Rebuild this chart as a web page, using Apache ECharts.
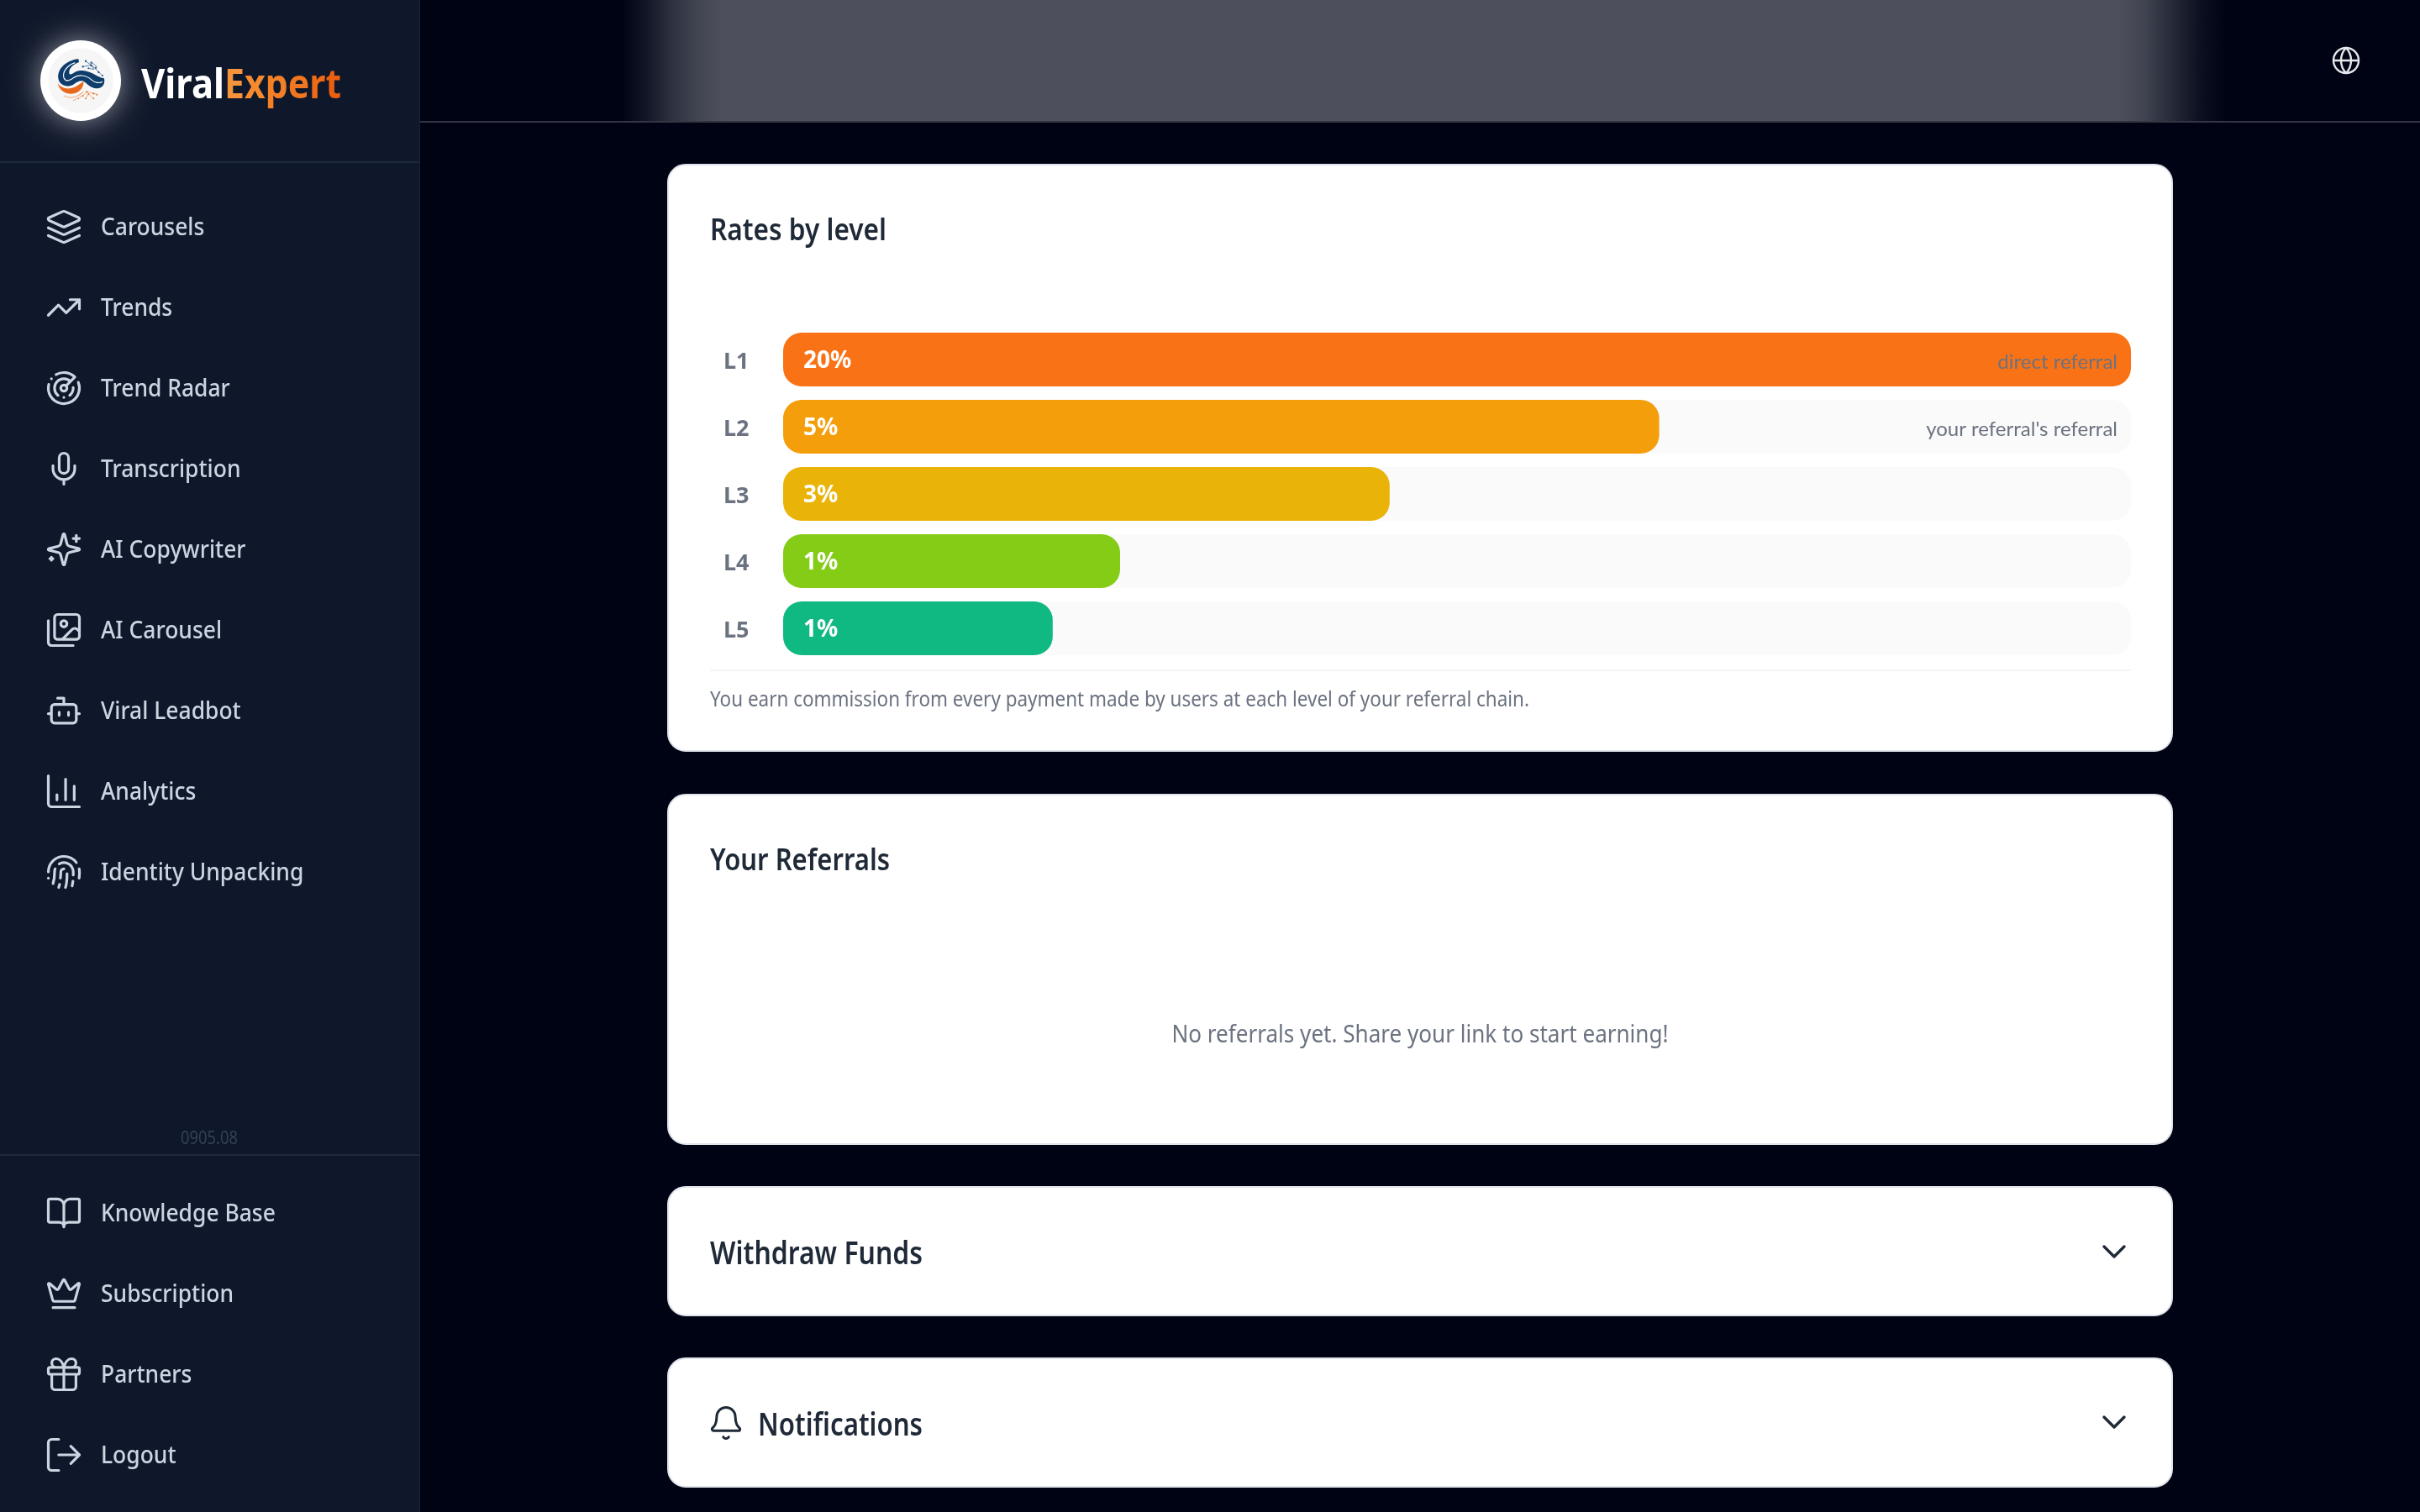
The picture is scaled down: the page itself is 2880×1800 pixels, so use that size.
<!DOCTYPE html>
<html>
<head>
<meta charset="utf-8">
<style>html,body{margin:0;padding:0;background:#000314}#c{width:2880px;height:1800px}</style>
<script src="https://cdn.jsdelivr.net/npm/echarts@6/dist/echarts.min.js"></script>
</head>
<body>
<div id="c"></div>
<script>
const levels = ['L1', 'L2', 'L3', 'L4', 'L5'];
const rateLabels = ['20%', '5%', '3%', '1%', '1%'];
const barLengths = [100, 65, 45, 25, 20];
const trackLengths = [100, 100, 100, 100, 100];
const barNotes = ['direct referral', "your referral's referral", '', '', ''];
const barColors = ['#f97316', '#f59e0b', '#eab308', '#84cc16', '#10b981'];
const navMain = ['Carousels', 'Trends', 'Trend Radar', 'Transcription', 'AI Copywriter', 'AI Carousel', 'Viral Leadbot', 'Analytics', 'Identity Unpacking'];
const navBottom = ['Knowledge Base', 'Subscription', 'Partners', 'Logout'];

const FONT = '"Noto Sans", "Open Sans", sans-serif';
const circ = (cx, cy, r) => `M${cx - r} ${cy}a${r} ${r} 0 1 0 ${2 * r} 0a${r} ${r} 0 1 0 ${-2 * r} 0z`;
const rrect = (x, y, w, h, r) => `M${x + r} ${y}h${w - 2 * r}a${r} ${r} 0 0 1 ${r} ${r}v${h - 2 * r}a${r} ${r} 0 0 1 ${-r} ${r}h${-(w - 2 * r)}a${r} ${r} 0 0 1 ${-r} ${-r}v${-(h - 2 * r)}a${r} ${r} 0 0 1 ${r} ${-r}z`;
const ICONS = {
  'Carousels': 'M12.83 2.18a2 2 0 0 0-1.66 0L2.6 6.08a1 1 0 0 0 0 1.83l8.58 3.91a2 2 0 0 0 1.66 0l8.58-3.9a1 1 0 0 0 0-1.83Z M22 17.65l-9.17 4.16a2 2 0 0 1-1.66 0L2 17.65 M22 12.65l-9.17 4.16a2 2 0 0 1-1.66 0L2 12.65',
  'Trends': 'M22 7L13.5 15.5L8.5 10.5L2 17 M16 7h6v6',
  'Trend Radar': 'M19.07 4.93A10 10 0 0 0 6.99 3.34 M4 6h.01 M2.29 9.62A10 10 0 1 0 21.31 8.35 M16.24 7.76A6 6 0 1 0 8.23 16.67 M12 18h.01 M17.99 11.66A6 6 0 0 1 15.77 16.67 ' + circ(12, 12, 2) + ' M13.41 10.59l5.66-5.66',
  'Transcription': 'M12 2a3 3 0 0 0-3 3v7a3 3 0 0 0 6 0V5a3 3 0 0 0-3-3Z M19 10v2a7 7 0 0 1-14 0v-2 M12 19v3',
  'AI Copywriter': 'M9.937 15.5A2 2 0 0 0 8.5 14.063l-6.135-1.582a.5.5 0 0 1 0-.962L8.5 9.936A2 2 0 0 0 9.937 8.5l1.582-6.135a.5.5 0 0 1 .963 0L14.063 8.5A2 2 0 0 0 15.5 9.937l6.135 1.581a.5.5 0 0 1 0 .964L15.5 14.063a2 2 0 0 0-1.437 1.437l-1.582 6.135a.5.5 0 0 1-.963 0z M20 3v4 M22 5h-4 M4 17v2 M5 18H3',
  'AI Carousel': 'M18 22H4a2 2 0 0 1-2-2V6 M22 13l-1.296-1.296a2.41 2.41 0 0 0-3.408 0L11 18 ' + circ(12, 8, 2) + ' ' + rrect(6, 2, 16, 16, 2),
  'Viral Leadbot': 'M12 8V4H8 ' + rrect(4, 8, 16, 12, 2) + ' M2 14h2 M20 14h2 M15 13v2 M9 13v2',
  'Analytics': 'M3 3v16a2 2 0 0 0 2 2h16 M8 17v-3 M13 17V5 M18 17V9',
  'Identity Unpacking': 'M12 10a2 2 0 0 0-2 2c0 1.02-.1 2.51-.26 4 M14 13.12c0 2.38 0 6.38-1 8.88 M17.29 21.02c.12-.6.43-2.3.5-3.02 M2 12a10 10 0 0 1 18-6 M2 16h.01 M21.8 16c.2-2 .131-5.354 0-6 M5 19.5C5.5 18 6 15 6 12a6 6 0 0 1 .34-2 M8.65 22c.21-.66.45-1.32.57-2 M9 6.8a6 6 0 0 1 9 5.2v2',
  'Knowledge Base': 'M12 7v14 M3 18a1 1 0 0 1-1-1V4a1 1 0 0 1 1-1h5a4 4 0 0 1 4 4a4 4 0 0 1 4-4h5a1 1 0 0 1 1 1v13a1 1 0 0 1-1 1h-6a3 3 0 0 0-3 3a3 3 0 0 0-3-3z',
  'Subscription': 'M11.562 3.266a.5.5 0 0 1 .876 0L15.39 8.87a1 1 0 0 0 1.516.294L21.183 5.5a.5.5 0 0 1 .798.519l-2.834 10.246a1 1 0 0 1-.956.734H5.81a1 1 0 0 1-.957-.734L2.02 6.02a.5.5 0 0 1 .798-.519l4.276 3.664a1 1 0 0 0 1.516-.294z M5 21h14',
  'Partners': rrect(3, 8, 18, 4, 1) + ' M12 8v13 M19 12v7a2 2 0 0 1-2 2H7a2 2 0 0 1-2-2v-7 M7.5 8a2.5 2.5 0 0 1 0-5A4.8 8 0 0 1 12 8a4.8 8 0 0 1 4.5-5a2.5 2.5 0 0 1 0 5',
  'Logout': 'M9 21H5a2 2 0 0 1-2-2V5a2 2 0 0 1 2-2h4 M16 17l5-5-5-5 M21 12H9',
  globe: circ(12, 12, 10) + ' M12 2a14.5 14.5 0 0 0 0 20a14.5 14.5 0 0 0 0-20 M2 12h20',
  bell: 'M10.268 21a2 2 0 0 0 3.464 0 M3.262 15.326A1 1 0 0 0 4 17h16a1 1 0 0 0 .74-1.673C19.41 13.956 18 12.499 18 8A6 6 0 0 0 6 8c0 4.499-1.411 5.956-2.738 7.326',
  chevron: 'M6 9l6 6l6-6'
};

const navColor = '#cbd5e1';
const iconItems = [];
navMain.forEach((n, i) => iconItems.push({ d: ICONS[n], cx: 76, cy: 270 + i * 96, w: 37, h: 37, c: navColor, lw: 3.2 }));
navBottom.forEach((n, i) => iconItems.push({ d: ICONS[n], cx: 76, cy: 1444 + i * 96, w: 37, h: 37, c: navColor, lw: 3.2 }));
iconItems.push({ d: ICONS.globe, cx: 2792, cy: 72, w: 30, h: 30, c: '#e5e7eb', lw: 2.4 });
iconItems.push({ d: ICONS.bell, cx: 864, cy: 1694, w: 36, h: 37, c: '#1f2937', lw: 3 });
iconItems.push({ d: ICONS.chevron, cx: 2516, cy: 1490, w: 24, h: 12, c: '#1f2937', lw: 3.4 });
iconItems.push({ d: ICONS.chevron, cx: 2516, cy: 1693, w: 24, h: 12, c: '#1f2937', lw: 3.4 });

const logoSvg = `<svg xmlns="http://www.w3.org/2000/svg" viewBox="0 0 336 336">
<circle cx="168" cy="168" r="116" fill="#f6f6f7"/>
<path d="M160 90C116 96 84 125 88 160C92 186 120 194 142 182C156 172 166 166 178 170C190 176 200 194 226 196C246 196 256 180 252 160C238 158 225 150 210 142C190 132 165 128 147 138C138 144 132 148 128 144C122 130 138 110 162 102Z" fill="#0f3d6b"/>
<path d="M148 104C118 114 102 138 108 158C114 172 130 170 142 158C158 146 186 146 208 166C220 176 236 178 246 172" fill="none" stroke="#ffffff" stroke-width="3.5"/>
<path d="M86 178C92 205 118 222 150 212C168 205 180 188 178 170C166 180 150 192 130 196C112 198 96 192 86 178Z" fill="#e8681c"/>
<path d="M108 222C130 234 156 228 178 208" fill="none" stroke="#f5b48a" stroke-width="4"/>
<path d="M140 240L176 222L190 208L214 214L228 218M186 232L196 216L214 232" fill="none" stroke="#ea8a4e" stroke-width="2"/>
<g fill="#ea7a35"><circle cx="190" cy="208" r="3.5"/><circle cx="214" cy="214" r="3.5"/><circle cx="196" cy="216" r="3"/><circle cx="176" cy="222" r="3"/><circle cx="186" cy="232" r="3"/><circle cx="214" cy="232" r="3"/><circle cx="160" cy="232" r="2.5"/><circle cx="226" cy="218" r="3"/></g>
<path d="M184 98L206 112L232 136L246 152M176 118L206 112L216 128L196 124M204 100L226 118" fill="none" stroke="#3f6c97" stroke-width="2.4"/>
<g fill="#2c5a88"><circle cx="186" cy="98" r="3.5"/><circle cx="206" cy="104" r="3.5"/><circle cx="176" cy="118" r="3.5"/><circle cx="206" cy="114" r="4"/><circle cx="222" cy="122" r="3.5"/><circle cx="232" cy="138" r="3.5"/><circle cx="196" cy="124" r="3"/><circle cx="246" cy="150" r="3"/></g>
</svg>`;

const measureCtx = document.createElement('canvas').getContext('2d');
function widthOf(text, font) { measureCtx.font = font; return measureCtx.measureText(text).width; }

// width: the on-screen width wanted; the glyphs are squeezed horizontally to reach it.
function T(text, x, y, size, weight, fill, width, align) {
  const font = `${weight} ${size}px ${FONT}`;
  return {
    type: 'text', z: 10, silent: true, x, y, scaleX: width ? width / widthOf(text, font) : 1,
    style: { text, x: 0, y: 0, fill, font, align: align || 'left', verticalAlign: 'middle', textAlign: align || 'left', textVerticalAlign: 'middle' }
  };
}
function R(x, y, width, height, fill, r, extra) {
  return { type: 'rect', z: -10, silent: true, shape: { x, y, width, height, r: r || 0 }, style: Object.assign({ fill }, extra || {}) };
}
function Card(y, h) {
  return R(795, y + 1, 1790, h - 2, '#ffffff', 21, { stroke: '#dfe3ea', lineWidth: 2 });
}
const band = (o, a) => ({ offset: (o - 730) / 1930, color: `rgba(77,80,92,${a})` });

const expertLetters = ['E', 'x', 'p', 'e', 'r', 't'];
const expertColors = ['#f7933a', '#f58a2f', '#f38027', '#f0761f', '#ed6a16', '#ea5f10'];
const logoFont = `700 48px ${FONT}`;
const expertRich = {};
expertLetters.forEach((_, i) => { expertRich['c' + i] = { fill: expertColors[i], font: logoFont, color: expertColors[i] }; });

const elements = [
  R(730, 0, 1930, 144, { type: 'linear', x: 0, y: 0, x2: 1, y2: 0, colorStops: [
    band(740, 0), band(770, 0.25), band(800, 0.6), band(830, 0.85), band(860, 1),
    band(2520, 1), band(2550, 0.85), band(2590, 0.45), band(2620, 0.15), band(2650, 0)] }),
  R(500, 144, 2380, 2, 'rgba(255,255,255,0.2)'),
  R(0, 0, 499, 1800, '#0f172a'),
  R(499, 0, 1, 1800, '#1a2336'),
  R(0, 192, 499, 2, '#1e293b'),
  R(0, 1374, 499, 2, '#1e293b'),
  { type: 'circle', z: -5, silent: true, shape: { cx: 96, cy: 96, r: 48 }, style: { fill: '#ffffff', shadowBlur: 36, shadowColor: 'rgba(255,255,255,0.55)' } },
  { type: 'image', z: -4, silent: true, style: { image: 'data:image/svg+xml;charset=utf-8,' + encodeURIComponent(logoSvg), x: 40, y: 40, width: 112, height: 112 } },
  T('Viral', 168, 103, 48, 700, '#ffffff', 99),
  {
    type: 'text', z: 10, silent: true, x: 267, y: 103, scaleX: 139 / widthOf('Expert', logoFont),
    style: { text: expertLetters.map((l, i) => `{c${i}|${l}}`).join(''), x: 0, y: 0, rich: expertRich, font: logoFont, align: 'left', verticalAlign: 'middle', textAlign: 'left', textVerticalAlign: 'middle' }
  },
  T('0905.08', 249, 1356, 21, 400, '#334155', 68, 'center'),
  Card(195, 700), Card(945, 418), Card(1412, 155), Card(1616, 155),
  R(845, 797, 1691, 2, '#f3f4f6'),
  T('Rates by level', 845, 276, 36, 600, '#1f2937', 210),
  T('You earn commission from every payment made by users at each level of your referral chain.', 845, 834, 25, 400, '#6b7280', 975),
  T('Your Referrals', 845, 1026, 36, 600, '#1f2937', 214),
  T('No referrals yet. Share your link to start earning!', 1690, 1233, 29, 400, '#6b7280', 591, 'center'),
  T('Withdraw Funds', 845, 1494, 38, 600, '#1f2937', 253),
  T('Notifications', 902, 1698, 38, 600, '#1f2937', 196)
];
const NAV_SQUEEZE = 0.912;
[[navMain, 270], [navBottom, 1444]].forEach(([names, top]) => names.forEach((n, i) => {
  const font = `500 29px ${FONT}`;
  elements.push(T(n, 120, top + 2 + i * 96, 29, 500, navColor, widthOf(n, font) * NAV_SQUEEZE));
}));

const chart = echarts.init(document.getElementById('c'), null, { renderer: 'canvas', width: 2880, height: 1800 });
chart.setOption({
  animation: false,
  backgroundColor: '#000314',
  graphic: { elements },
  grid: { left: 932, width: 1604, top: 388, height: 400, containLabel: false },
  xAxis: { type: 'value', min: 0, max: 100, show: false },
  yAxis: {
    type: 'category', inverse: true, data: levels,
    axisLine: { show: false }, axisTick: { show: false }, splitLine: { show: false },
    axisLabel: { color: '#6b7280', fontFamily: FONT, fontSize: 27, fontWeight: 700, align: 'left', margin: 71, verticalAlign: 'top', lineHeight: 6 }
  },
  series: [
    {
      type: 'bar', silent: true, barWidth: 64, barGap: '-100%',
      showBackground: true, backgroundStyle: { color: '#fafafa', borderRadius: 22 },
      data: barLengths.map((v, i) => ({ value: v, itemStyle: { color: barColors[i], borderRadius: 22 } })),
      label: { show: true, position: 'insideLeft', distance: 24, offset: [0, 2], color: '#ffffff', fontFamily: FONT, fontSize: 28, fontWeight: 700, formatter: p => rateLabels[p.dataIndex] }
    },
    {
      type: 'bar', silent: true, barWidth: 64, barGap: '-100%',
      data: trackLengths, itemStyle: { color: 'transparent' },
      label: { show: true, position: 'insideRight', distance: 16, offset: [0, 3], color: '#6b7280', fontFamily: 'Lato, "Noto Sans", sans-serif', fontSize: 24, formatter: p => barNotes[p.dataIndex] }
    },
    {
      type: 'custom', coordinateSystem: 'none', silent: true, z: 6,
      data: iconItems.map((_, i) => [i]),
      renderItem: (params) => {
        const it = iconItems[params.dataIndex];
        return {
          type: 'path',
          shape: { pathData: it.d, x: it.cx - it.w / 2, y: it.cy - it.h / 2, width: it.w, height: it.h },
          style: { fill: 'none', stroke: it.c, lineWidth: it.lw, lineCap: 'round', lineJoin: 'round' }
        };
      }
    }
  ]
});
</script>
</body>
</html>
